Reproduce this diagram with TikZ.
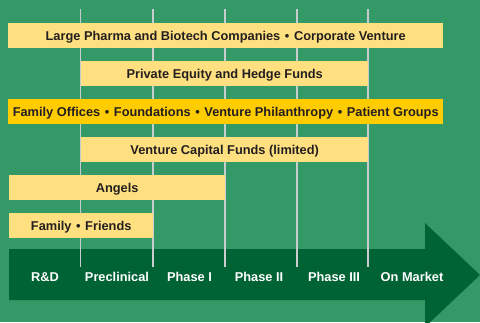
\documentclass[tikz,border=0pt]{standalone}
\usepackage{fontspec}
\setmainfont{Liberation Sans}
\usetikzlibrary{positioning}

\definecolor{field}{RGB}{51,153,102}
\definecolor{pipe}{RGB}{0,99,54}
\definecolor{barlight}{RGB}{255,224,128}
\definecolor{bardark}{RGB}{255,204,0}
\definecolor{rule}{RGB}{200,204,204}
\definecolor{ink}{RGB}{35,31,32}
\newcommand{\dotsep}{\hspace{0.36em}\textbullet\hspace{0.36em}}

\begin{document}
\begin{tikzpicture}[
        x=1pt, y=-1pt,
        label font/.style = {font=\bfseries\fontsize{12.8}{14}\selectfont, text height=12pt, text depth=1.2pt},
        bar/.style = {rectangle, fill=barlight, minimum height=24.5pt, inner sep=0pt,
                      anchor=west, text=ink, label font},
        stage/.style = {text=white, inner sep=0pt, label font},
        gridline/.style = {rule, line width=1.4pt}
        ]
        \useasboundingbox (0,0) rectangle (480,322);
        \clip (0,0) rectangle (480,322);
        \fill[field] (0,0) rectangle (480,322);

        % pipeline arrow
        \fill[pipe] (9,249) -- (425,249) -- (425,223) -- (480,275)
                -- (425,327) -- (425,300) -- (9,300) -- cycle;

        % phase boundaries
        \foreach \x in {80.5,153,225,297,368}
                \draw[gridline] (\x,9) -- (\x,267);

        % funding sources
        \node[bar, minimum width=435pt] (pharma) at (8,35.5)
                {Large Pharma and Biotech Companies\dotsep Corporate Venture};
        \node[bar, minimum width=287pt] (equity) at (81,73.5)
                {Private Equity and Hedge Funds};
        \node[bar, fill=bardark, minimum width=435pt] (offices) at (8,111.5)
                {Family Offices\dotsep Foundations\dotsep Venture Philanthropy\dotsep Patient Groups};
        \node[bar, minimum width=287pt] (vc) at (81,149.5)
                {Venture Capital Funds (limited)};
        \node[bar, minimum width=216pt] (angels) at (9,187.5)
                {Angels};
        \node[bar, minimum width=144pt] (friends) at (9,225.5)
                {Family\dotsep Friends};

        % stages
        \node[stage] (rd) at (45,276.3) {R\&D};
        \node[stage] (preclin) at (117,276.3) {Preclinical};
        \node[stage] (ph1) at (189.5,276.3) {Phase I};
        \node[stage] (ph2) at (259,276.3) {Phase II};
        \node[stage] (ph3) at (334,276.3) {Phase III};
        \node[stage] (market) at (412,276.3) {On Market};
\end{tikzpicture}
\end{document}
